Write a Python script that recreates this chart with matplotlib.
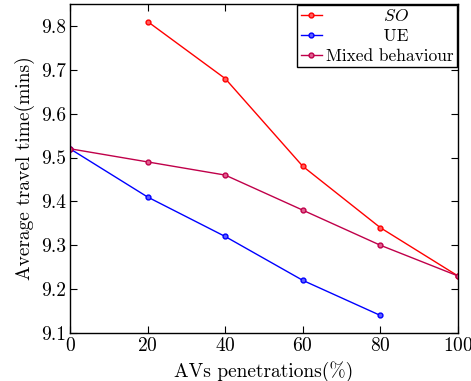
import numpy as np
import matplotlib
matplotlib.use("Agg")
import matplotlib.pyplot as plt

plt.rcParams['font.family'] = 'serif'
plt.rcParams['font.serif'] = ['cmr10']
plt.rcParams['mathtext.fontset'] = 'cm'
plt.rcParams['axes.unicode_minus'] = False
plt.rcParams['axes.formatter.use_mathtext'] = True

pen_so = [20, 40, 60, 80, 100]
time_so = [9.81, 9.68, 9.48, 9.34, 9.23]
pen_ue = [0, 20, 40, 60, 80]
time_ue = [9.52, 9.41, 9.32, 9.22, 9.14]
pen_mix = [0, 20, 40, 60, 80, 100]
time_mix = [9.52, 9.49, 9.46, 9.38, 9.30, 9.23]

c_so = '#ff0000'
c_ue = '#0000ff'
c_mix = '#c0004a'

fig = plt.figure(figsize=(4.71, 3.81), dpi=100)
ax = fig.add_axes([0.1486, 0.126, 0.8238, 0.8635])

# labels padded so the short ones sit centred like the original legend
ax.plot(pen_so, time_so, '-o', c=c_so, lw=1, ms=3.5, mfc='#ff6060', mec=c_so, mew=1,
        label="          $SO$")
ax.plot(pen_ue, time_ue, '-o', c=c_ue, lw=1, ms=3.5, mfc='#6060ff', mec=c_ue, mew=1,
        label="          UE")
ax.plot(pen_mix, time_mix, '-o', c=c_mix, lw=1, ms=3.5, mfc='#e06090', mec=c_mix, mew=1,
        label="Mixed behaviour")

ax.set_xlim(0, 100)
ax.set_ylim(9.1, 9.85)
ax.set_xticks([0, 20, 40, 60, 80, 100])
ax.set_yticks([9.1, 9.2, 9.3, 9.4, 9.5, 9.6, 9.7, 9.8])
ax.set_yticklabels(["9.1", "9.2", "9.3", "9.4", "9.5", "9.6", "9.7", "9.8"])
ax.tick_params(direction='in', top=True, right=True, labelsize=14, length=5, pad=3)
for s in ax.spines.values():
    s.set_linewidth(1)

ax.set_xlabel("AVs penetrations(%)", fontsize=14)
ax.set_ylabel("Average travel time(mins)", fontsize=14)

leg = ax.legend(loc='upper right', fontsize=12.5, numpoints=1, handlelength=1.2,
                handletextpad=0.25, borderaxespad=0.05, borderpad=0.2, labelspacing=0.25,
                fancybox=False, edgecolor='black', framealpha=1)
leg.get_frame().set_linewidth(1)

fig.savefig("out.png", dpi=100)
